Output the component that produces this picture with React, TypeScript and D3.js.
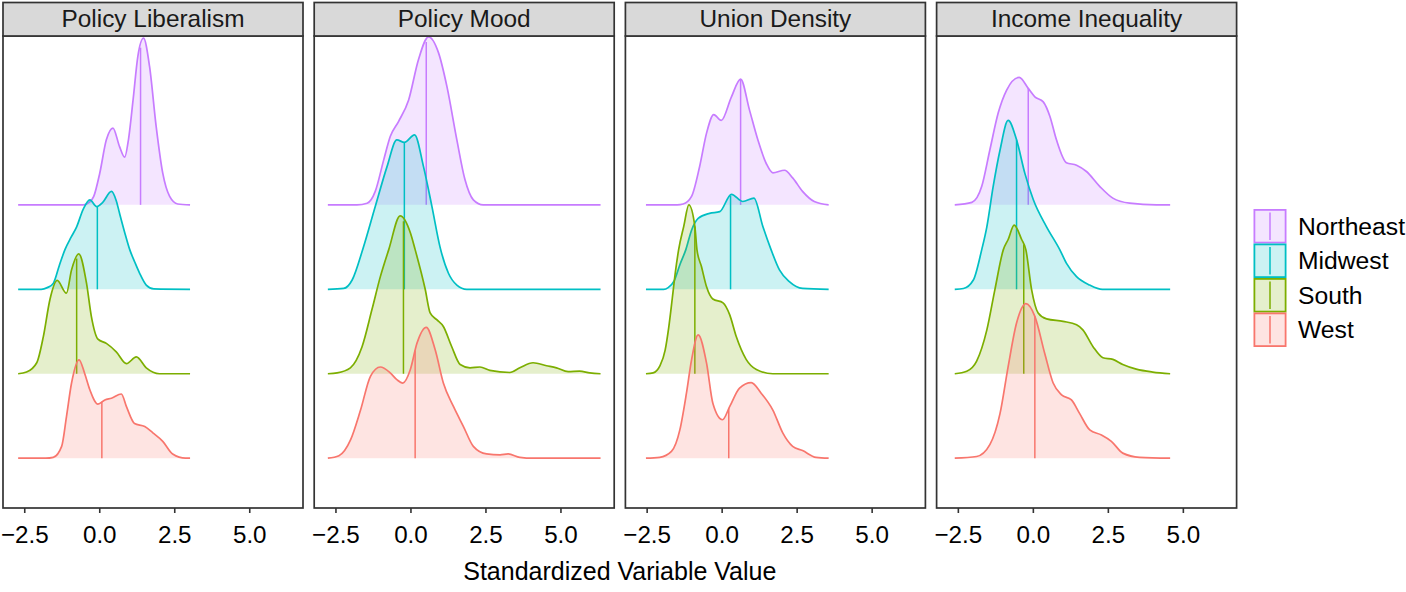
import { useEffect, useRef } from 'react';
import * as d3 from 'd3';

type Pt = [number, number];

const regions = ['Northeast', 'Midwest', 'South', 'West'];
const regionColors = ['#C77CFF', '#00BFC4', '#7CAE00', '#F8766D'];
const panelTitles = ['Policy Liberalism', 'Policy Mood', 'Union Density', 'Income Inequality'];
const xTicks = [-2.5, 0, 2.5, 5];
const xTickLabels = ['\u22122.5', '0.0', '2.5', '5.0'];

// density heights (in units of ridge spacing), [x, height]
const libNortheast: Pt[] = [[-2.72,0],[-0.55,0],[-0.35,0.03],[-0.2,0.1],[0,0.375],[0.22,0.77],[0.44,0.91],[0.66,0.69],[0.83,0.565],[0.96,0.78],[1.11,1.24],[1.27,1.76],[1.46,1.975],[1.66,1.64],[1.88,0.93],[2.1,0.375],[2.33,0.1],[2.6,0.01],[3.01,0]];
const libMidwest: Pt[] = [[-2.72,0],[-1.95,0],[-1.75,0.02],[-1.55,0.07],[-1.35,0.28],[-1.16,0.47],[-0.95,0.62],[-0.77,0.74],[-0.55,0.95],[-0.33,1.06],[-0.1,0.98],[0.1,1.03],[0.39,1.16],[0.55,1.05],[0.66,0.9],[0.85,0.65],[1.0,0.47],[1.17,0.32],[1.33,0.19],[1.55,0.05],[1.8,0.005],[3.01,0]];
const libSouth: Pt[] = [[-2.72,0],[-2.44,0.02],[-2.1,0.13],[-1.88,0.44],[-1.66,0.88],[-1.42,1.105],[-1.11,0.955],[-0.94,1.23],[-0.7,1.42],[-0.44,1.07],[-0.28,0.68],[-0.06,0.41],[0.22,0.36],[0.55,0.26],[0.89,0.12],[1.22,0.2],[1.55,0.07],[1.99,0],[3.01,0]];
const libWest: Pt[] = [[-2.72,0],[-1.8,0],[-1.55,0.01],[-1.27,0.14],[-1.11,0.49],[-0.94,0.89],[-0.69,1.165],[-0.5,1.0],[-0.33,0.81],[-0.06,0.64],[0.17,0.69],[0.39,0.71],[0.72,0.76],[0.89,0.61],[1.16,0.41],[1.5,0.375],[1.77,0.3],[2.1,0.2],[2.43,0.05],[2.86,0],[3.01,0]];

const moodNortheast: Pt[] = [[-2.77,0],[-1.8,0],[-1.46,0.02],[-1.19,0.16],[-0.91,0.53],[-0.69,0.81],[-0.41,0.99],[-0.08,1.24],[0.25,1.72],[0.585,1.99],[0.92,1.8],[1.2,1.4],[1.53,0.77],[1.8,0.3],[2.08,0.06],[2.41,0],[6.32,0]];
const moodMidwest: Pt[] = [[-2.77,0],[-2.24,0.01],[-1.96,0.11],[-1.6,0.48],[-1.19,0.98],[-0.8,1.45],[-0.47,1.77],[-0.22,1.74],[0.12,1.83],[0.42,1.45],[0.7,0.98],[0.97,0.5],[1.25,0.19],[1.53,0.05],[1.86,0],[6.32,0]];
const moodSouth: Pt[] = [[-2.77,0],[-2.46,0.01],[-2.02,0.07],[-1.63,0.32],[-1.3,0.76],[-1.02,1.15],[-0.74,1.47],[-0.36,1.87],[-0.02,1.67],[0.14,1.47],[0.475,1.0],[0.64,0.72],[0.86,0.64],[1.08,0.56],[1.36,0.32],[1.64,0.11],[1.97,0.07],[2.3,0.08],[2.63,0.04],[3.3,0.015],[3.63,0.07],[4.07,0.13],[4.52,0.095],[4.85,0.07],[5.24,0.024],[5.62,0.03],[5.96,0.01],[6.32,0]];
const moodWest: Pt[] = [[-2.77,0],[-2.4,0.03],[-2.01,0.22],[-1.68,0.57],[-1.35,0.97],[-1.02,1.08],[-0.69,1.01],[-0.47,0.93],[-0.27,0.89],[-0.02,1.05],[0.2,1.36],[0.51,1.55],[0.81,1.28],[1.08,0.89],[1.42,0.61],[1.75,0.375],[2.08,0.14],[2.52,0.05],[2.97,0.04],[3.24,0.05],[3.63,0.01],[4.07,0],[6.32,0]];

const unionNortheast: Pt[] = [[-2.54,0],[-1.5,0],[-1.3,0.01],[-1.02,0.1],[-0.75,0.455],[-0.52,0.85],[-0.28,1.07],[-0.03,1.0],[0.31,1.28],[0.615,1.49],[0.91,1.125],[1.19,0.77],[1.47,0.49],[1.69,0.38],[2.08,0.41],[2.35,0.32],[2.68,0.16],[3.07,0.04],[3.55,0]];
const unionMidwest: Pt[] = [[-2.54,0],[-1.95,0],[-1.8,0.02],[-1.6,0.1],[-1.4,0.3],[-1.21,0.47],[-1.02,0.7],[-0.8,0.84],[-0.42,0.9],[-0.08,0.92],[0.31,1.125],[0.69,1.04],[1.06,1.08],[1.36,0.74],[1.63,0.47],[1.91,0.23],[2.24,0.09],[2.68,0.01],[3.55,0]];
const unionSouth: Pt[] = [[-2.54,0],[-2.3,0.01],[-2.08,0.09],[-1.9,0.28],[-1.78,0.55],[-1.66,0.9],[-1.56,1.2],[-1.45,1.47],[-1.28,1.745],[-1.11,2.0],[-0.91,1.745],[-0.84,1.47],[-0.69,1.27],[-0.52,1.03],[-0.31,0.885],[0.03,0.84],[0.25,0.7],[0.47,0.44],[0.8,0.17],[1.14,0.05],[1.69,0],[3.55,0]];
const unionWest: Pt[] = [[-2.54,0],[-2.08,0.01],[-1.69,0.08],[-1.41,0.335],[-1.19,0.77],[-1.02,1.165],[-0.8,1.46],[-0.52,1.125],[-0.31,0.65],[0.01,0.455],[0.25,0.61],[0.58,0.83],[0.97,0.895],[1.3,0.77],[1.69,0.57],[2.02,0.3],[2.35,0.14],[2.68,0.09],[3.13,0.01],[3.55,0]];

const incNortheast: Pt[] = [[-2.62,0],[-2.05,0.03],[-1.72,0.22],[-1.45,0.65],[-1.17,1.09],[-0.89,1.36],[-0.47,1.51],[-0.17,1.38],[0.05,1.28],[0.33,1.22],[0.55,1.05],[0.77,0.77],[1.1,0.5],[1.44,0.47],[1.77,0.395],[2.21,0.22],[2.65,0.08],[3.21,0.02],[4.1,0],[4.56,0]];
const incMidwest: Pt[] = [[-2.62,0],[-2.33,0.01],[-2.0,0.11],[-1.72,0.47],[-1.55,0.74],[-1.34,1.215],[-1.11,1.65],[-0.84,2.0],[-0.56,1.77],[-0.28,1.37],[0,1.06],[0.44,0.74],[0.88,0.47],[1.1,0.31],[1.44,0.15],[1.88,0.05],[2.3,0],[4.56,0]];
const incSouth: Pt[] = [[-2.62,0],[-2.22,0.03],[-1.89,0.15],[-1.55,0.52],[-1.28,1.0],[-1.0,1.47],[-0.84,1.59],[-0.64,1.76],[-0.39,1.59],[-0.25,1.47],[-0.06,1.0],[0.16,0.72],[0.44,0.65],[0.99,0.62],[1.44,0.58],[1.65,0.52],[1.99,0.32],[2.32,0.19],[2.65,0.17],[2.98,0.11],[3.43,0.055],[3.98,0.02],[4.56,0]];
const incWest: Pt[] = [[-2.62,0],[-1.89,0.02],[-1.45,0.16],[-1.11,0.53],[-0.84,1.085],[-0.56,1.6],[-0.25,1.83],[0.05,1.68],[0.38,1.24],[0.66,0.89],[0.94,0.75],[1.27,0.69],[1.54,0.53],[1.88,0.335],[2.27,0.275],[2.6,0.2],[2.98,0.06],[3.54,0.01],[4.56,0]];

// medians per panel, in region order
const libMedians = [1.36, -0.08, -0.77, 0.07];
const moodMedians = [0.51, -0.22, -0.25, 0.14];
const unionMedians = [0.615, 0.28, -0.91, 0.22];
const incMedians = [-0.17, -0.56, -0.32, 0.05];

const panelDensities = [
  [libNortheast, libMidwest, libSouth, libWest],
  [moodNortheast, moodMidwest, moodSouth, moodWest],
  [unionNortheast, unionMidwest, unionSouth, unionWest],
  [incNortheast, incMidwest, incSouth, incWest],
];
const panelMedians = [libMedians, moodMedians, unionMedians, incMedians];

const W = 1406;
const H = 592;
const FONT = '"Liberation Sans", Arial, Helvetica, sans-serif';

const heightAt = (pts: Pt[], x: number) => {
  const i = d3.bisector((d: Pt) => d[0]).left(pts, x);
  if (i <= 0) return pts[0][1];
  if (i >= pts.length) return pts[pts.length - 1][1];
  const [x0, y0] = pts[i - 1];
  const [x1, y1] = pts[i];
  return y0 + ((x - x0) / (x1 - x0)) * (y1 - y0);
};

export default function App() {
  const svgRef = useRef<SVGSVGElement>(null);

  useEffect(() => {
    if (!svgRef.current) return;
    const svg = d3.select(svgRef.current);
    svg.selectAll('*').remove();

    const panelW = 300;
    const panelStep = 311.2;
    const firstLeft = 3;
    const stripTop = 2.5;
    const stripBottom = 36;
    const plotBottom = 508;
    const lineW = 1.7;

    // ridge positions: West = 1 ... Northeast = 4
    const y = d3.scaleLinear().domain([0.41, 6.0]).range([plotBottom, stripBottom]);
    const level = (r: number) => regions.length - r;

    panelTitles.forEach((title, p) => {
      const left = firstLeft + p * panelStep;
      const x = d3.scaleLinear().domain([-3.225, 6.775]).range([left, left + panelW]);
      const g = svg.append('g');

      g.append('rect')
        .attr('x', left).attr('y', stripBottom)
        .attr('width', panelW).attr('height', plotBottom - stripBottom)
        .attr('fill', 'white');

      panelDensities[p].forEach((pts, r) => {
        const base = level(r);
        const color = regionColors[r];
        const area = d3.area<Pt>()
          .x(d => x(d[0]))
          .y0(y(base))
          .y1(d => y(base + d[1]))
          .curve(d3.curveMonotoneX);
        const line = d3.line<Pt>()
          .x(d => x(d[0]))
          .y(d => y(base + d[1]))
          .curve(d3.curveMonotoneX);

        g.append('path').attr('d', area(pts)).attr('fill', color).attr('fill-opacity', 0.2);
        g.append('path').attr('d', line(pts))
          .attr('fill', 'none').attr('stroke', color).attr('stroke-width', lineW);

        const med = panelMedians[p][r];
        g.append('line')
          .attr('x1', x(med)).attr('x2', x(med))
          .attr('y1', y(base)).attr('y2', y(base + heightAt(pts, med)))
          .attr('stroke', color).attr('stroke-width', 1.5);
      });

      // panel frame
      g.append('rect')
        .attr('x', left).attr('y', stripBottom)
        .attr('width', panelW).attr('height', plotBottom - stripBottom)
        .attr('fill', 'none').attr('stroke', '#333333').attr('stroke-width', 1.7);

      // strip
      g.append('rect')
        .attr('x', left).attr('y', stripTop)
        .attr('width', panelW).attr('height', stripBottom - stripTop)
        .attr('fill', '#D9D9D9').attr('stroke', '#333333').attr('stroke-width', 1.7);
      g.append('text')
        .attr('x', left + panelW / 2).attr('y', 27)
        .attr('text-anchor', 'middle')
        .attr('font-family', FONT).attr('font-size', 24.4)
        .attr('fill', '#1A1A1A')
        .text(title);

      // x axis
      xTicks.forEach((t, i) => {
        g.append('line')
          .attr('x1', x(t)).attr('x2', x(t))
          .attr('y1', plotBottom).attr('y2', plotBottom + 5)
          .attr('stroke', '#333333').attr('stroke-width', 1.6);
        g.append('text')
          .attr('x', x(t)).attr('y', 542.5)
          .attr('text-anchor', 'middle')
          .attr('font-family', FONT).attr('font-size', 24.2)
          .attr('fill', '#000')
          .text(xTickLabels[i]);
      });
    });

    svg.append('text')
      .attr('x', (firstLeft + 3 * panelStep + panelW + firstLeft) / 2)
      .attr('y', 580)
      .attr('text-anchor', 'middle')
      .attr('font-family', FONT).attr('font-size', 25)
      .attr('fill', '#000')
      .text('Standardized Variable Value');

    // legend
    const keyX = 1253.5;
    const keyW = 33;
    const keyH = 34.5;
    const keyTop = 209;
    regions.forEach((name, r) => {
      const ky = keyTop + r * keyH;
      const color = regionColors[r];
      const lg = svg.append('g');
      lg.append('rect')
        .attr('x', keyX + 0.9).attr('y', ky + 0.9)
        .attr('width', keyW - 1.8).attr('height', keyH - 1.8)
        .attr('fill', color).attr('fill-opacity', 0.2)
        .attr('stroke', color).attr('stroke-width', 1.8);
      lg.append('line')
        .attr('x1', keyX + keyW / 2).attr('x2', keyX + keyW / 2)
        .attr('y1', ky + 3.5).attr('y2', ky + keyH - 3.5)
        .attr('stroke', color).attr('stroke-width', 1.5);
      lg.append('text')
        .attr('x', 1298).attr('y', ky + keyH / 2)
        .attr('dy', '0.35em')
        .attr('font-family', FONT).attr('font-size', 24.7)
        .attr('fill', '#000')
        .text(name);
    });
  }, []);

  return (
    <svg
      ref={svgRef}
      width={W}
      height={H}
      style={{ position: 'absolute', left: 0, top: 0, background: 'white' }}
    />
  );
}
